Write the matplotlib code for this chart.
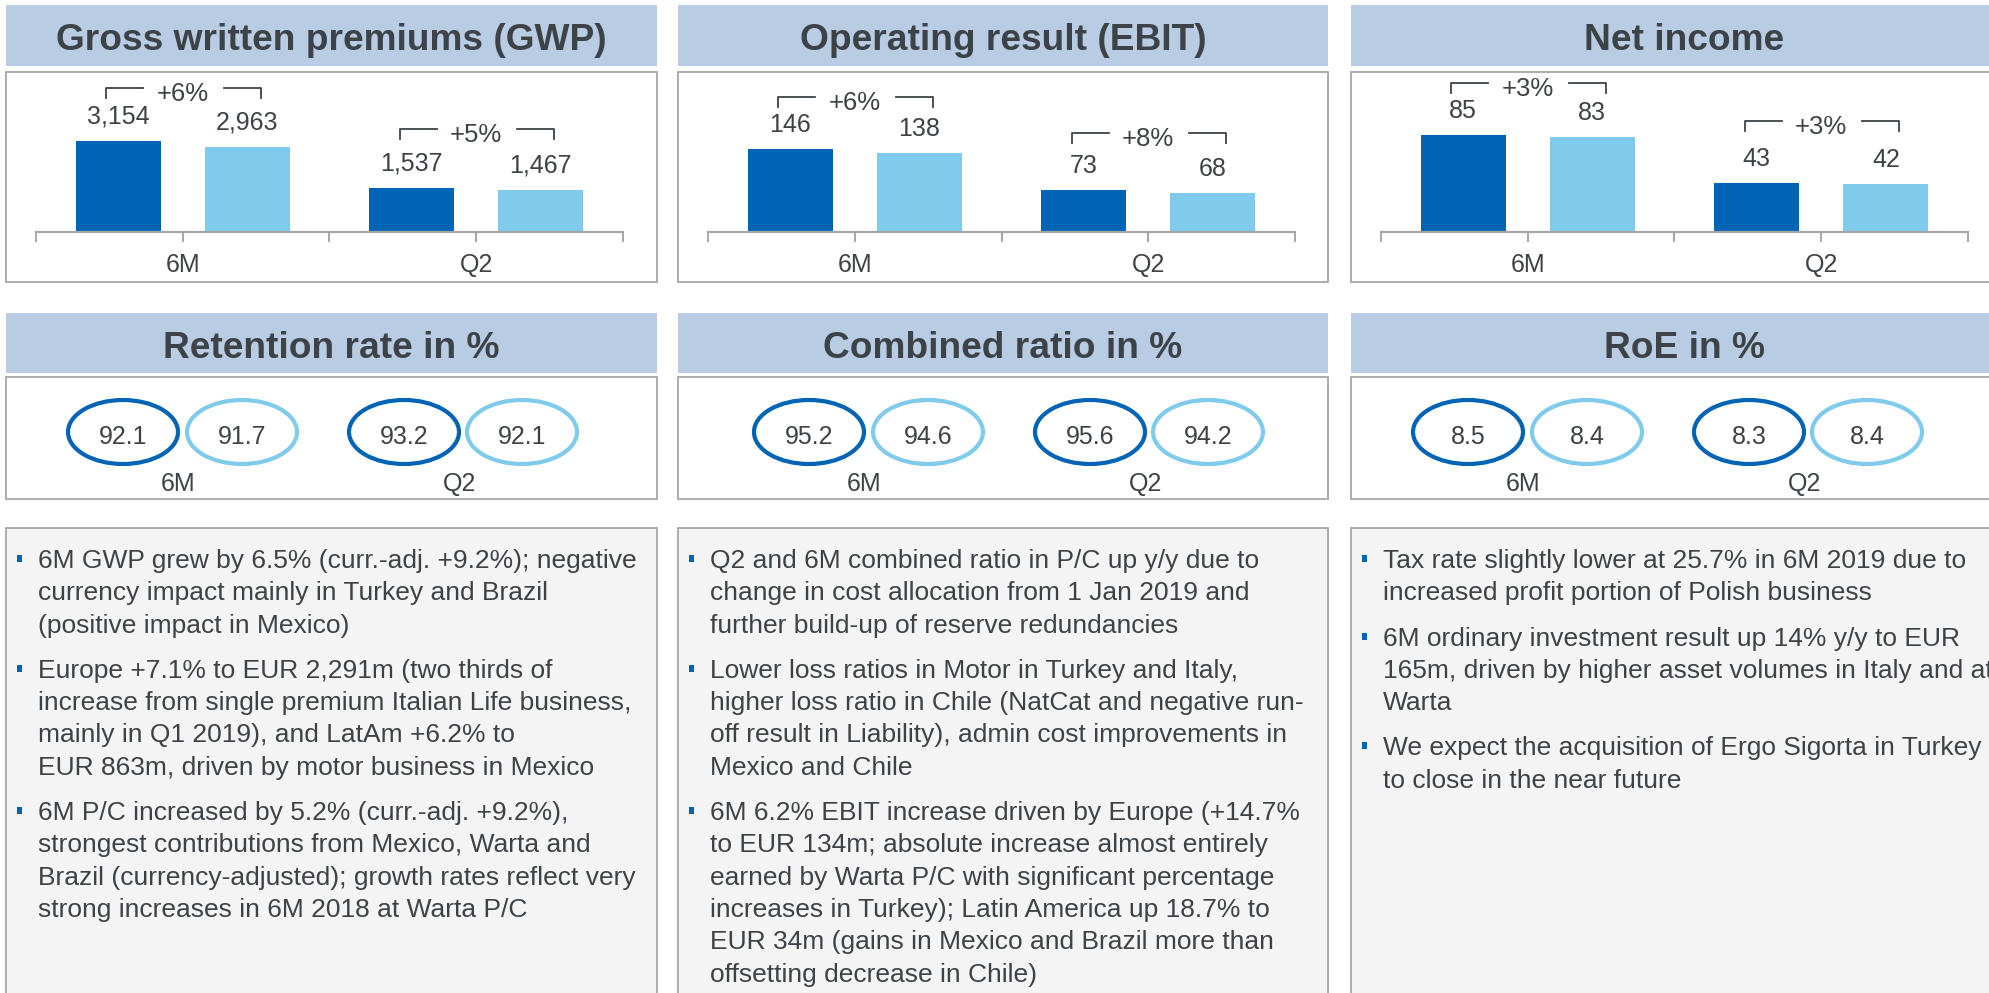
import numpy as np
import matplotlib.pyplot as plt
from matplotlib.patches import Rectangle, Ellipse
from matplotlib.lines import Line2D

W, H = 1990, 993

# data
categories = ["6M", "Q2"]

gwp_2019 = [3154, 1537]
gwp_2018 = [2963, 1467]
gwp_growth = ["+6%", "+5%"]

ebit_2019 = [146, 73]
ebit_2018 = [138, 68]
ebit_growth = ["+6%", "+8%"]

net_2019 = [85, 43]
net_2018 = [83, 42]
net_growth = ["+3%", "+3%"]

retention_2019 = [92.1, 93.2]
retention_2018 = [91.7, 92.1]
combined_2019 = [95.2, 95.6]
combined_2018 = [94.6, 94.2]
roe_2019 = [8.5, 8.3]
roe_2018 = [8.4, 8.4]

bar_titles = ["Gross written premiums (GWP)", "Operating result (EBIT)", "Net income"]
ratio_titles = ["Retention rate in %", "Combined ratio in %", "RoE in %"]

gwp_notes = [
    ["6M GWP grew by 6.5% (curr.-adj. +9.2%); negative",
     "currency impact mainly in Turkey and Brazil",
     "(positive impact in Mexico)"],
    ["Europe +7.1% to EUR 2,291m (two thirds of",
     "increase from single premium Italian Life business,",
     "mainly in Q1 2019), and LatAm +6.2% to",
     "EUR 863m, driven by motor business in Mexico"],
    ["6M P/C increased by 5.2% (curr.-adj. +9.2%),",
     "strongest contributions from Mexico, Warta and",
     "Brazil (currency-adjusted); growth rates reflect very",
     "strong increases in 6M 2018 at Warta P/C"],
]
ebit_notes = [
    ["Q2 and 6M combined ratio in P/C up y/y due to",
     "change in cost allocation from 1 Jan 2019 and",
     "further build-up of reserve redundancies"],
    ["Lower loss ratios in Motor in Turkey and Italy,",
     "higher loss ratio in Chile (NatCat and negative run-",
     "off result in Liability), admin cost improvements in",
     "Mexico and Chile"],
    ["6M 6.2% EBIT increase driven by Europe (+14.7%",
     "to EUR 134m; absolute increase almost entirely",
     "earned by Warta P/C with significant percentage",
     "increases in Turkey); Latin America up 18.7% to",
     "EUR 34m (gains in Mexico and Brazil more than",
     "offsetting decrease in Chile)"],
]
net_notes = [
    ["Tax rate slightly lower at 25.7% in 6M 2019 due to",
     "increased profit portion of Polish business"],
    ["6M ordinary investment result up 14% y/y to EUR",
     "165m, driven by higher asset volumes in Italy and at",
     "Warta"],
    ["We expect the acquisition of Ergo Sigorta in Turkey",
     "to close in the near future"],
]

# style
DARK = "#0064b4"
LIGHT = "#80cbeb"
BAND = "#b8cce4"
TEXT = "#3d4247"
GRAY = "#a6a6a6"
NOTE_BG = "#f4f4f4"

PANEL_LEFT = [6, 678, 1351]
PANEL_W = [651, 650, 666]
Y_MAX = [5545, 281, 140]
BRACKET_GAP = [[53, 59], [52, 57], [52, 62]]
ELL_X = [117, 236, 398, 516]
ELL_LABEL_X = [172, 454]
ROW2_SHIFT = [0, 14, 0]

plt.rcParams['font.family'] = ['Liberation Sans', 'DejaVu Sans']

fig = plt.figure(figsize=(W / 100, H / 100), dpi=100)
bg = fig.add_axes([0, 0, 1, 1])
bg.set_xlim(0, W)
bg.set_ylim(H, 0)
bg.axis('off')


def frac(x0, y0, x1, y1):
    return [x0 / W, 1 - y1 / H, (x1 - x0) / W, (y1 - y0) / H]


def band(L, w, y0, y1, title, base):
    bg.add_patch(Rectangle((L, y0), w, y1 - y0, facecolor=BAND, edgecolor='none'))
    bg.text(L + w / 2, base, title, ha='center', va='baseline', fontsize=26.7,
            fontweight='bold', color=TEXT)


def box(L, w, y0, y1, fc='white'):
    bg.add_patch(Rectangle((L, y0), w, y1 - y0, facecolor=fc, edgecolor=GRAY, lw=1.3))


# row 1: bar charts
bar_data = [(gwp_2019, gwp_2018, gwp_growth),
            (ebit_2019, ebit_2018, ebit_growth),
            (net_2019, net_2018, net_growth)]

for i, (v19, v18, growth) in enumerate(bar_data):
    L, w = PANEL_LEFT[i], PANEL_W[i]
    band(L, w, 5, 66, bar_titles[i], 50)
    box(L, w, 72, 282)

    ax = fig.add_axes(frac(L + 30, 72, L + 617, 232))
    ax.set_facecolor('none')
    x = np.arange(len(categories))
    ax.bar(x - 0.22, v19, 0.29, color=DARK)
    ax.bar(x + 0.22, v18, 0.29, color=LIGHT)
    ax.set_xlim(-0.5, 1.5)
    ax.set_ylim(0, Y_MAX[i])
    for s in ['top', 'left', 'right']:
        ax.spines[s].set_visible(False)
    ax.spines['bottom'].set_color(GRAY)
    ax.spines['bottom'].set_linewidth(1.6)
    ax.set_xticks([-0.5, 0, 0.5, 1, 1.5])
    ax.set_xticklabels([])
    ax.set_yticks([])
    ax.tick_params(axis='x', length=7, width=1.4, color=GRAY)

    for j, cat in enumerate(categories):
        for xv, v in [(j - 0.22, v19[j]), (j + 0.22, v18[j])]:
            ax.annotate(f"{v:,}", xy=(xv, v), xytext=(0, 17), textcoords='offset pixels',
                        ha='center', va='baseline', fontsize=18, color=TEXT)
        ax.annotate(cat, xy=(j, 0), xytext=(0, -40), textcoords='offset pixels',
                    ha='center', va='baseline', fontsize=18, color=TEXT)

        # growth bracket above the pair
        top = ax.transData.transform((j, max(v19[j], v18[j])))[1]
        yb = H - top - BRACKET_GAP[i][j]
        xa = ax.transData.transform((j - 0.26, 0))[0]
        xb = ax.transData.transform((j - 0.135, 0))[0]
        xc = ax.transData.transform((j + 0.14, 0))[0]
        xd = ax.transData.transform((j + 0.265, 0))[0]
        xm = ax.transData.transform((j, 0))[0]
        bg.add_line(Line2D([xa, xa, xb], [yb + 10, yb, yb], color=TEXT, lw=1.3))
        bg.add_line(Line2D([xc, xd, xd], [yb, yb, yb + 10], color=TEXT, lw=1.3))
        bg.text(xm, yb + 13, growth[j], ha='center', va='baseline', fontsize=18.5, color=TEXT)

# row 2: ratio ellipses
ratio_data = [(retention_2019, retention_2018),
              (combined_2019, combined_2018),
              (roe_2019, roe_2018)]

for i, (a, b) in enumerate(ratio_data):
    L, w = PANEL_LEFT[i], PANEL_W[i]
    band(L, w, 313, 373, ratio_titles[i], 358)
    box(L, w, 377, 499)
    sh = L + ROW2_SHIFT[i]
    for j, cat in enumerate(categories):
        for k, (v, col) in enumerate([(a[j], DARK), (b[j], LIGHT)]):
            cx = sh + ELL_X[2 * j + k]
            bg.add_patch(Ellipse((cx, 432), 110, 64, facecolor='white', edgecolor=col, lw=3))
            bg.text(cx, 444, f"{v:.1f}", ha='center', va='baseline', fontsize=18, color=TEXT)
        bg.text(sh + ELL_LABEL_X[j], 491, cat, ha='center', va='baseline', fontsize=18, color=TEXT)

# row 3: commentary
for i, notes in enumerate([gwp_notes, ebit_notes, net_notes]):
    L, w = PANEL_LEFT[i], PANEL_W[i]
    box(L, w, 528, 1010, fc=NOTE_BG)
    y = 568
    for para in notes:
        bg.add_patch(Rectangle((L + 11, y - 13), 5, 7, facecolor=DARK, edgecolor='none'))
        for line in para:
            bg.text(L + 32, y, line, ha='left', va='baseline', fontsize=19, color=TEXT)
            y += 32.3
        y += 13
fig.savefig("out.png", dpi=100, facecolor='white')
